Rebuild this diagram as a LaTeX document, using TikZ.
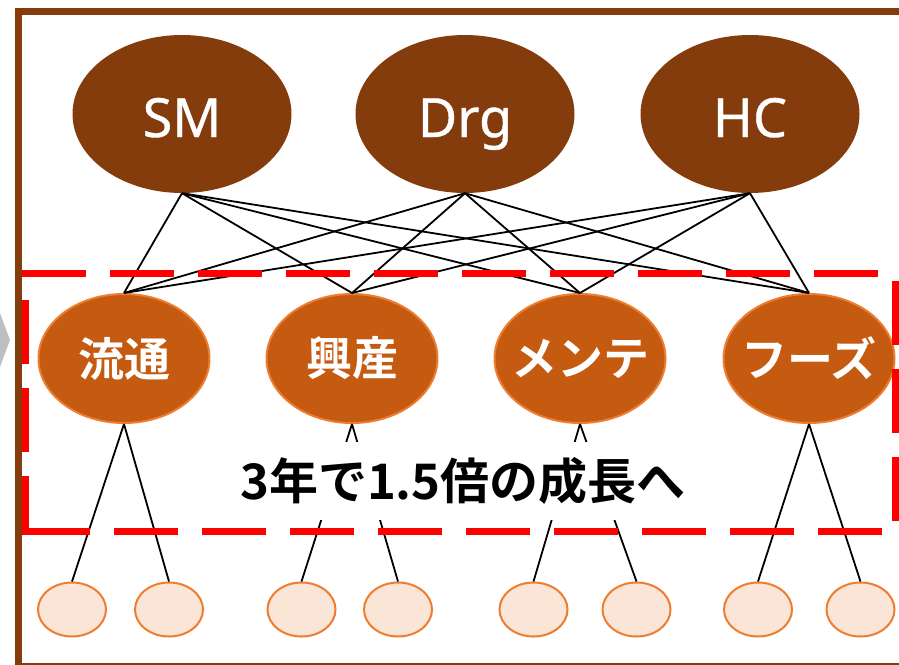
\documentclass[tikz,border=0pt]{standalone}
\usepackage{fontspec}
\setmainfont{Noto Sans CJK JP}[BoldFont={Noto Sans CJK JP Bold}]
\newfontfamily\latinlbl{Noto Sans}[FakeBold=0.7]
\usetikzlibrary{shapes.geometric}
\definecolor{darkbrown}{HTML}{843C0C}
\definecolor{midorange}{HTML}{C55A11}
\definecolor{lightorange}{HTML}{ED7D31}
\definecolor{paleorange}{HTML}{FBE5D6}
\definecolor{chevgrey}{HTML}{BFBFBF}
\newcommand{\zw}[1]{\makebox[0pt]{#1}}
\tikzset{
  topnode/.style={ellipse, fill=darkbrown, draw=none, minimum width=219pt, minimum height=158pt, inner sep=0pt, text=white, text height=46pt, text depth=0pt, font=\latinlbl\fontsize{54}{54}\selectfont},
  midnode/.style={ellipse, fill=midorange, draw=lightorange, line width=2pt, minimum width=171pt, minimum height=129pt, inner sep=0pt, text=white, font=\bfseries\fontsize{46}{46}\selectfont},
  leafnode/.style={ellipse, fill=paleorange, draw=lightorange, line width=2pt, minimum width=68pt, minimum height=54pt, inner sep=0pt},
  link/.style={draw=black, line width=1.8pt},
  reddash/.style={draw=red, line width=7pt, dash pattern=on 64pt off 24pt},
}
\begin{document}
\begin{tikzpicture}[x=1pt,y=-1pt]
\useasboundingbox (0,0) rectangle (899,664);
\begin{scope}
\clip (0,0) rectangle (899,664);
% frame
\draw[darkbrown, line width=7pt] (1000,11.5) -- (18,11.5) -- (18,666) -- (1000,666);
% grey chevron
\fill[chevgrey] (0,313) -- (10,340) -- (0,367) -- cycle;
\end{scope}

% top nodes
\node[topnode] (sm) at (182,114) {\zw{SM}};
\node[topnode] (drg) at (465,114) {\zw{Drg}};
\node[topnode] (hc) at (750,114) {\zw{HC}};

% middle nodes
\node[midnode] (ryutsu) at (124,358.5) {\zw{流通}};
\node[midnode] (kosan) at (352,358.5) {\zw{興産}};
\node[midnode] (mente) at (580,358.5) {\zw{メンテ}};
\node[midnode] (foods) at (809,358.5) {\zw{フーズ}};

% leaf nodes
\node[leafnode] (l1) at (72,609.5) {};
\node[leafnode] (l2) at (169,609.5) {};
\node[leafnode] (l3) at (301.5,609.5) {};
\node[leafnode] (l4) at (398,609.5) {};
\node[leafnode] (l5) at (533.5,609.5) {};
\node[leafnode] (l6) at (636.5,609.5) {};
\node[leafnode] (l7) at (758,609.5) {};
\node[leafnode] (l8) at (860.5,609.5) {};

% top-to-middle links
\foreach \t in {sm,drg,hc}{
  \foreach \m in {ryutsu,kosan,mente,foods}{
    \draw[link] (\t.south) -- (\m.north);
  }
}
% middle-to-leaf links
\draw[link] (ryutsu.south) -- (l1.north);
\draw[link] (ryutsu.south) -- (l2.north);
\draw[link] (kosan.south) -- (l3.north);
\draw[link] (kosan.south) -- (l4.north);
\draw[link] (mente.south) -- (l5.north);
\draw[link] (mente.south) -- (l6.north);
\draw[link] (foods.south) -- (l7.north);
\draw[link] (foods.south) -- (l8.north);

% red dashed box
\coordinate (rtl) at (22,273);
\coordinate (rtr) at (898,273);
\coordinate (rrt) at (895,273);
\coordinate (rrb) at (895,535);
\coordinate (rbr) at (895,531);
\coordinate (rbl) at (22,531);
\coordinate (rlt) at (25.5,276);
\coordinate (rlb) at (25.5,535);
\draw[reddash, dash phase=0pt] (rtl) -- (rtr);
\draw[reddash, dash phase=80pt] (rrt) -- (rrb);
\draw[reddash, dash phase=75pt] (rbr) -- (rbl);
\draw[reddash, dash phase=64pt] (rlt) -- (rlb);

% caption
\node[fill=white, inner xsep=6pt, minimum height=78pt, font=\bfseries\fontsize{49}{49}\selectfont] (caption) at (463,481) {3年で1.5倍の成長へ};
\end{tikzpicture}
\end{document}
